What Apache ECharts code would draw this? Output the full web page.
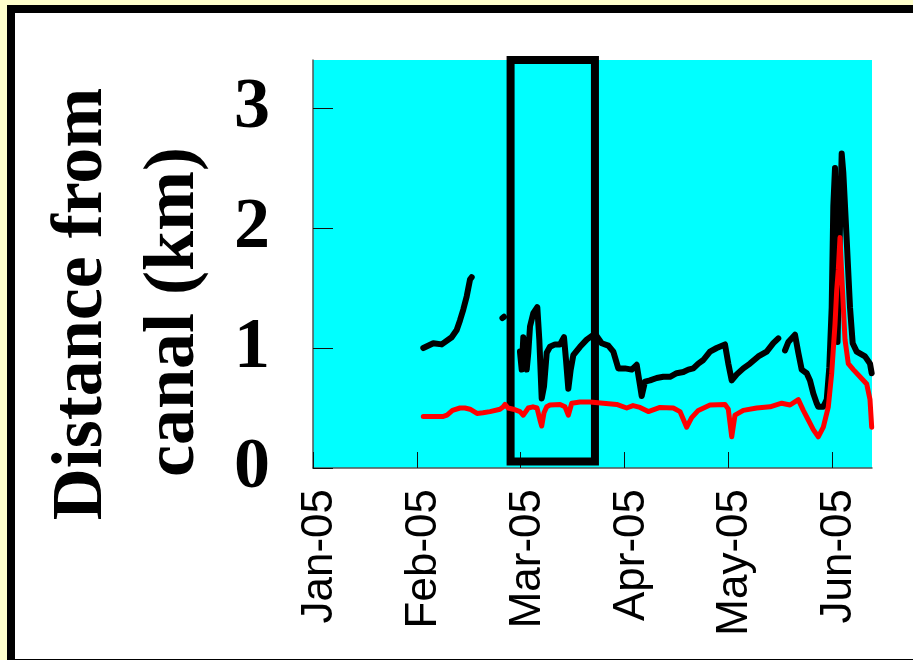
<!DOCTYPE html>
<html>
<head>
<meta charset="utf-8">
<script src="https://cdn.jsdelivr.net/npm/echarts@6/dist/echarts.min.js"></script>
<style>
  html, body { margin: 0; padding: 0; background: #ffffcc; }
  #chart { width: 913px; height: 660px; }
</style>
</head>
<body>
<div id="chart"></div>
<script>
// Month tick labels and the day (since 1 Jan 2005) each month starts on
const monthLabels = ['Jan-05', 'Feb-05', 'Mar-05', 'Apr-05', 'May-05', 'Jun-05'];
const monthStartDays = [0, 31, 59, 90, 120, 151, 181];
const yTicks = [0, 1, 2, 3];
const yMax = 3.4;
const lastDay = 162.56;            // end of the record shown
const windowDays = [56.3, 81.2];   // highlighted period
const windowRange = [0.054, 3.4];

// Upper track (km from canal); null marks a break in the record
const blackDays = [
  32.75, 35.45, 37.72, 40.41, 41.76, 42.65, 43.54, 44.46, 45.35, 45.81,
  50,
  54.1, 54.5,
  56.5,
  58.83, 59.33, 59.81, 60.82, 61.3, 61.81, 62.79, 63.99, 64.59, 65.30,
  65.99, 66.8, 67.78, 69.28, 70.77, 71.96, 72.56, 73.25, 73.96, 74.74,
  76.74, 78.74, 81.22, 83.22, 85.2, 86.69, 88.18, 90.17, 92.11, 93.55,
  94.51, 95.0, 95.95, 97.4, 99.33, 101.24, 103.18, 105.11, 107.02, 108.47,
  109.91, 111.36, 112.8, 114.74, 116.67, 119.07, 120.03, 121.05, 122.54, 124.51,
  126.51, 128.99, 131.5, 133.47, 134.96,
  136,
  136.97, 137.96, 139.95, 140.94, 141.95, 143.44, 144.43, 145.42, 146.43, 146.9,
  148.41, 149.43, 150.2, 150.91, 151.38, 151.87, 152.6, 153.3, 153.8, 154.27,
  155.25, 156.2, 156.98, 158.14, 160.54, 161.98, 162.47
];
const blackValues = [
  1.00, 1.04, 1.03, 1.09, 1.15, 1.23, 1.32, 1.43, 1.57, 1.59,
  null,
  1.25, 1.26,
  null,
  0.97, 0.82, 1.09, 0.82, 0.96, 1.18, 1.29, 1.34, 1.07, 0.58,
  0.68, 0.96, 1.01, 1.03, 1.03, 1.09, 0.90, 0.66, 0.82, 0.94,
  1.01, 1.07, 1.12, 1.04, 1.02, 0.97, 0.83, 0.83, 0.82, 0.86,
  0.69, 0.60, 0.72, 0.73, 0.75, 0.76, 0.76, 0.79, 0.80, 0.82,
  0.83, 0.87, 0.90, 0.97, 1.00, 1.03, 0.87, 0.73, 0.78, 0.83,
  0.87, 0.93, 0.97, 1.04, 1.08,
  null,
  0.98, 1.05, 1.11, 0.96, 0.82, 0.79, 0.73, 0.62, 0.54, 0.51,
  0.51, 0.57, 0.84, 1.34, 2.18, 2.50, 1.05, 2.00, 2.62, 2.46,
  1.90, 1.34, 1.04, 0.97, 0.93, 0.87, 0.79
];

// Lower track (km from canal)
const redDays = [
  32.75, 38.15, 39.15, 40.63, 42.65, 43.97, 45.35, 47.24, 48.85, 50.74,
  53.44, 54.33, 54.79, 55.6, 57.03, 58.83, 59.81, 61.3, 62.7, 63.9,
  64.79, 65.3, 65.99, 66.8, 67.78, 70.77, 72.26, 73.25, 74.27, 76.74,
  79.73, 83.71, 87.7, 90.66, 92.49, 94.51, 96.91, 100.29, 104.13, 106.07,
  108.0, 109.44, 111.36, 114.74, 119.07, 120.03, 121.05, 122.03, 124.51, 128.51,
  132.49, 135.98, 138.46, 140.94, 142.43, 143.93, 145.42, 146.9, 148.41, 149.9,
  150.91, 151.87, 152.36, 152.82, 153.31, 153.8, 154.27, 154.76, 155.71, 157.16,
  159.09, 161.03, 161.98, 162.47
];
const redValues = [
  0.43, 0.43, 0.44, 0.48, 0.50, 0.50, 0.49, 0.455, 0.46, 0.47,
  0.49, 0.51, 0.53, 0.50, 0.49, 0.47, 0.44, 0.50, 0.51, 0.50,
  0.40, 0.35, 0.46, 0.51, 0.525, 0.53, 0.51, 0.44, 0.54, 0.55,
  0.55, 0.54, 0.53, 0.50, 0.52, 0.505, 0.47, 0.505, 0.50, 0.47,
  0.34, 0.42, 0.48, 0.525, 0.53, 0.49, 0.26, 0.44, 0.48, 0.50,
  0.51, 0.54, 0.525, 0.57, 0.48, 0.40, 0.32, 0.26, 0.34, 0.51,
  0.79, 1.20, 1.48, 1.65, 1.92, 1.62, 1.34, 1.07, 0.87, 0.82,
  0.76, 0.70, 0.57, 0.34
];

// Each month gets the same width on the axis: map a day to its month position
function monthPos(day) {
  for (let k = 0; k < monthStartDays.length - 1; k++) {
    if (day < monthStartDays[k + 1]) {
      return k + (day - monthStartDays[k]) / (monthStartDays[k + 1] - monthStartDays[k]);
    }
  }
  return monthStartDays.length - 1;
}
function pairs(days, values) {
  return days.map((d, i) => [monthPos(d), values[i] === null ? '-' : values[i]]);
}

const monthTicks = monthLabels.map((_, i) => i);
const serifBold = { fontFamily: '"Liberation Serif", "Times New Roman", serif', fontWeight: 'bold' };

const chart = echarts.init(document.getElementById('chart'), null, { renderer: 'canvas' });
chart.setOption({
  animation: false,
  backgroundColor: '#ffffcc',
  graphic: [
    {
      type: 'rect', z: -100, silent: true,
      shape: { x: 11, y: 9, width: 960, height: 654 },
      style: { fill: '#ffffff', stroke: '#000000', lineWidth: 8 }
    },
    {
      type: 'text', z: 100, silent: true,
      x: 82, y: 304, rotation: Math.PI / 2,
      style: Object.assign({ text: 'Distance from', fontSize: 72, fill: '#000', align: 'center', verticalAlign: 'middle' }, serifBold)
    },
    {
      type: 'text', z: 100, silent: true,
      x: 174, y: 312, rotation: Math.PI / 2,
      style: Object.assign({ text: 'canal (km)', fontSize: 72, fill: '#000', align: 'center', verticalAlign: 'middle' }, serifBold)
    }
  ],
  grid: {
    left: 313, top: 60, right: 41, bottom: 192,
    show: true, backgroundColor: '#00ffff', borderWidth: 0
  },
  xAxis: {
    type: 'value',
    min: 0,
    max: monthPos(lastDay),
    axisLine: { show: true, lineStyle: { color: '#555', width: 1.5 } },
    axisTick: { show: true, inside: true, length: 16, customValues: monthTicks, lineStyle: { color: '#111', width: 1 } },
    axisLabel: {
      customValues: monthTicks,
      formatter: v => monthLabels[Math.round(v)],
      rotate: 90, margin: 21,
      verticalAlign: 'top', lineHeight: 14,
      fontFamily: '"Liberation Sans", Arial, sans-serif', fontSize: 44, color: '#000'
    },
    splitLine: { show: false }
  },
  yAxis: {
    type: 'value',
    min: 0, max: yMax,
    axisLine: { show: true, lineStyle: { color: '#555', width: 1.5 } },
    axisTick: { show: true, inside: true, length: 20, customValues: yTicks, lineStyle: { color: '#111', width: 1 } },
    axisLabel: Object.assign({ customValues: yTicks, fontSize: 72, margin: 43, color: '#000' }, serifBold),
    splitLine: { show: false }
  },
  series: [
    {
      type: 'line',
      data: pairs(blackDays, blackValues),
      showSymbol: false,
      connectNulls: false,
      clip: false,
      lineStyle: { color: '#000', width: 6, cap: 'round', join: 'round' },
      markArea: {
        silent: true,
        itemStyle: { color: 'rgba(0,0,0,0)', borderColor: '#000', borderWidth: 8 },
        data: [[
          { xAxis: monthPos(windowDays[0]), yAxis: windowRange[0] },
          { xAxis: monthPos(windowDays[1]), yAxis: windowRange[1] }
        ]]
      }
    },
    {
      type: 'line',
      data: pairs(redDays, redValues),
      showSymbol: false,
      lineStyle: { color: '#ff0000', width: 5, cap: 'round', join: 'round' }
    }
  ]
});
</script>
</body>
</html>
